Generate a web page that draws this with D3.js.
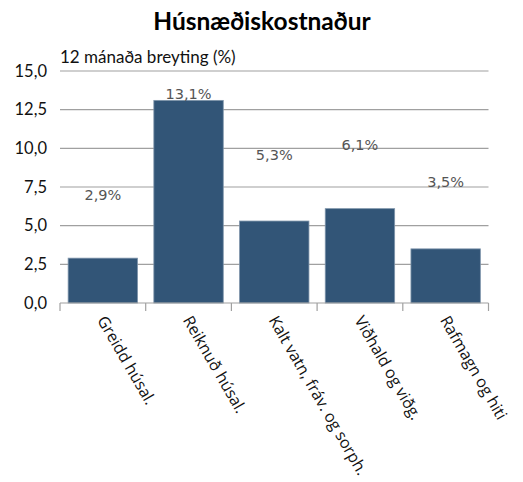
<!DOCTYPE html>
<html>
<head>
<meta charset="utf-8">
<script src="https://cdn.jsdelivr.net/npm/d3@7"></script>
<style>
  body { margin: 0; background: #fff; }
</style>
</head>
<body>
<script>
// gögnin
const flokkar = ["Greidd húsal.", "Reiknuð húsal.", "Kalt vatn, fráv. og sorph.", "Viðhald og viðg.", "Rafmagn og hiti"];
const breyting = [2.9, 13.1, 5.3, 6.1, 3.5];
const merki = ["2,9%", "13,1%", "5,3%", "6,1%", "3,5%"];
const yTikk = [0, 2.5, 5, 7.5, 10, 12.5, 15];

const width = 523, height = 482;
const mLeft = 60, mRight = 488.5, mTop = 71, mBottom = 303;

const svg = d3.select("body")
  .append("svg")
  .attr("width", width)
  .attr("height", height);

const x = d3.scaleBand()
  .domain(flokkar)
  .range([mLeft, mRight])
  .paddingInner(0.19)
  .paddingOuter(0.095);

const y = d3.scaleLinear()
  .domain([0, 15])
  .range([mBottom, mTop]);

// gildismerkin liggja ekki á súlunum í upprunalegu myndinni
const yMerki = d3.scaleLog()
  .domain([2.9, 13.1])
  .range([194, 93]);

// titill
svg.append("text")
  .attr("x", 262)
  .attr("y", 30)
  .attr("text-anchor", "middle")
  .attr("font-family", "Lato, 'Open Sans', sans-serif")
  .attr("font-weight", "bold")
  .attr("font-size", 24.5)
  .text("Húsnæðiskostnaður");

svg.append("text")
  .attr("x", 60)
  .attr("y", 63)
  .attr("font-family", "Lato, 'Open Sans', sans-serif")
  .attr("font-size", 17)
  .attr("fill", "#111")
  .text("12 mánaða breyting (%)");

// hnitalínur
svg.append("g")
  .selectAll("line")
  .data(yTikk.slice(1))
  .join("line")
  .attr("x1", mLeft)
  .attr("x2", mRight)
  .attr("y1", d => y(d))
  .attr("y2", d => y(d))
  .attr("stroke", "#a0a0a0")
  .attr("stroke-width", 1.2);

// y ás
const yAs = svg.append("g")
  .attr("transform", `translate(${mLeft},0)`)
  .call(d3.axisLeft(y).tickValues(yTikk).tickSize(0).tickPadding(13)
    .tickFormat(d => d3.format(".1f")(d).replace(".", ",")));
yAs.select(".domain").remove();
yAs.selectAll("text")
  .attr("font-family", "Lato, 'Open Sans', sans-serif")
  .attr("font-size", 16.5)
  .attr("fill", "#111");

// súlur
svg.append("g")
  .selectAll("rect")
  .data(breyting)
  .join("rect")
  .attr("x", (d, i) => x(flokkar[i]))
  .attr("y", d => y(d))
  .attr("width", x.bandwidth())
  .attr("height", d => y(0) - y(d))
  .attr("fill", "#325577")
  .attr("stroke", "#7f95ab")
  .attr("stroke-width", 0.8);

// x ás
const xAs = svg.append("g")
  .attr("transform", `translate(0,${mBottom})`);
xAs.append("line")
  .attr("x1", mLeft)
  .attr("x2", mRight)
  .attr("stroke", "#a0a0a0")
  .attr("stroke-width", 1.2);
xAs.selectAll(".tikk")
  .data(d3.range(flokkar.length + 1))
  .join("line")
  .attr("class", "tikk")
  .attr("x1", i => mLeft + i * x.step())
  .attr("x2", i => mLeft + i * x.step())
  .attr("y1", 0)
  .attr("y2", 8)
  .attr("stroke", "#a0a0a0")
  .attr("stroke-width", 1.2);

xAs.selectAll(".flokkur")
  .data(flokkar)
  .join("text")
  .attr("class", "flokkur")
  .attr("transform", d => `translate(${x(d) + x.bandwidth() / 2 - 6},${17}) rotate(60)`)
  .attr("font-family", "'Open Sans', sans-serif")
  .attr("font-size", 16)
  .attr("fill", "#111")
  .text(d => d);

// gildismerki
svg.append("g")
  .selectAll("text")
  .data(breyting)
  .join("text")
  .attr("x", (d, i) => x(flokkar[i]) + x.bandwidth() / 2)
  .attr("y", d => yMerki(d) + 6)
  .attr("text-anchor", "middle")
  .attr("font-family", "'DejaVu Sans', Verdana, sans-serif")
  .attr("font-size", 14.5)
  .attr("fill", "#555")
  .text((d, i) => merki[i]);
</script>
</body>
</html>
